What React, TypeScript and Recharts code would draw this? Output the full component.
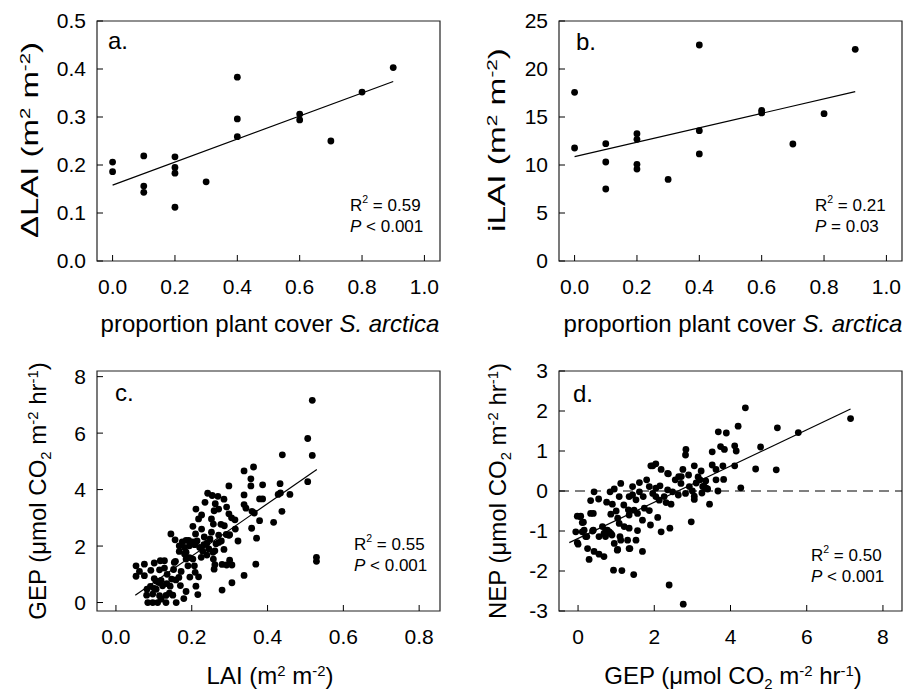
import { ScatterChart, Scatter, XAxis, YAxis, ReferenceArea, ReferenceLine } from 'recharts';

const FONT = '"Liberation Sans", Arial, sans-serif';

// panel a: change in LAI vs proportion cover
const dLaiPoints: [number, number][] = [
  [0.0, 0.206], [0.0, 0.186], [0.1, 0.219], [0.1, 0.156], [0.1, 0.143],
  [0.2, 0.217], [0.2, 0.195], [0.2, 0.183], [0.2, 0.112], [0.3, 0.165],
  [0.4, 0.383], [0.4, 0.296], [0.4, 0.259], [0.6, 0.306], [0.6, 0.294],
  [0.7, 0.25], [0.8, 0.352], [0.9, 0.403],
];
const dLaiFit: [number, number][] = [[0.0, 0.158], [0.9, 0.374]];

// panel b: iLAI vs proportion cover
const iLaiPoints: [number, number][] = [
  [0.0, 17.57], [0.0, 11.77], [0.1, 12.22], [0.1, 10.31], [0.1, 7.5],
  [0.2, 13.26], [0.2, 12.67], [0.2, 10.07], [0.2, 9.58], [0.3, 8.5],
  [0.4, 22.5], [0.4, 13.58], [0.4, 11.15], [0.6, 15.7], [0.6, 15.42],
  [0.7, 12.19], [0.8, 15.35], [0.9, 22.05],
];
const iLaiFit: [number, number][] = [[0.0, 10.87], [0.9, 17.64]];

// panel c: GEP vs LAI
const gepLaiPoints: [number, number][] = [
  [0.518, 7.16], [0.506, 5.81], [0.518, 5.21], [0.439, 5.23], [0.506, 4.28], [0.529, 1.6], [0.529, 1.46],
  [0.363, 4.8], [0.338, 4.66], [0.356, 4.38], [0.356, 4.13], [0.387, 4.17], [0.433, 4.21], [0.428, 3.83],
  [0.434, 3.88], [0.459, 3.83], [0.298, 4.13], [0.338, 3.81], [0.379, 3.67], [0.387, 3.67], [0.438, 3.23],
  [0.416, 2.84], [0.338, 3.47], [0.343, 3.34], [0.359, 3.23], [0.365, 3.17], [0.379, 2.9], [0.358, 2.63],
  [0.371, 2.28], [0.369, 1.36], [0.338, 0.96], [0.306, 0.7], [0.28, 0.44], [0.322, 2.18], [0.242, 3.87],
  [0.254, 3.79], [0.269, 3.76], [0.285, 3.66], [0.235, 3.55], [0.211, 3.31], [0.259, 3.25], [0.271, 3.31],
  [0.292, 3.38], [0.298, 3.14], [0.314, 2.93], [0.218, 2.96], [0.252, 2.96], [0.257, 2.78], [0.277, 2.77],
  [0.286, 2.72], [0.291, 2.41], [0.298, 2.38], [0.203, 2.7], [0.252, 2.49], [0.271, 2.39], [0.21, 2.43],
  [0.233, 2.32], [0.145, 2.43], [0.156, 2.22], [0.175, 2.15], [0.185, 2.2], [0.192, 2.2], [0.203, 2.15],
  [0.214, 2.18], [0.167, 2.01], [0.181, 1.95], [0.194, 2.01], [0.208, 2.05], [0.221, 1.95], [0.229, 1.82],
  [0.24, 1.68], [0.264, 2.08], [0.278, 2.18], [0.285, 1.88], [0.256, 1.78], [0.257, 1.54], [0.261, 1.34],
  [0.259, 1.18], [0.28, 1.35], [0.292, 1.33], [0.306, 1.33], [0.185, 1.78], [0.194, 1.59], [0.203, 1.54],
  [0.209, 1.07], [0.218, 0.91], [0.211, 0.58], [0.185, 0.39], [0.157, 1.46], [0.117, 1.48], [0.128, 1.48],
  [0.101, 1.4], [0.075, 1.36], [0.053, 1.3], [0.053, 0.93], [0.075, 0.95], [0.092, 1.14], [0.115, 1.16],
  [0.128, 1.22], [0.152, 1.17], [0.147, 0.83], [0.166, 0.89], [0.143, 0.58], [0.091, 0.57], [0.106, 0.76],
  [0.119, 0.78], [0.134, 0.67], [0.081, 0.26], [0.115, 0.24], [0.132, 0.25], [0.106, 0.47], [0.097, 0.3],
  [0.084, 0.0], [0.097, 0.0], [0.11, 0.0], [0.141, 0.33], [0.119, 0.12], [0.132, 0.0], [0.159, 0.0],
  [0.15, 0.26], [0.179, 0.14], [0.216, 0.28], [0.113, 0.71], [0.123, 0.59], [0.101, 0.85], [0.158, 0.8],
  [0.082, 0.47], [0.101, 0.5], [0.3, 2.4], [0.271, 2.13], [0.261, 1.83], [0.167, 1.81], [0.181, 1.72],
  [0.154, 1.42], [0.207, 1.3], [0.185, 1.54], [0.226, 2.6], [0.24, 2.1], [0.232, 2.05], [0.245, 1.9],
  [0.225, 1.6], [0.19, 1.3], [0.172, 1.1], [0.135, 1.0], [0.062, 1.1], [0.226, 3.1], [0.262, 3.5],
  [0.305, 3.0], [0.315, 2.6], [0.248, 2.25], [0.17, 0.6], [0.195, 0.9], [0.3, 1.5],
];
const gepLaiFit: [number, number][] = [[0.051, 0.26], [0.53, 4.71]];

// panel d: NEP vs GEP
const nepGepPoints: [number, number][] = [
  [4.39, 2.08], [7.15, 1.81], [5.78, 1.46], [5.23, 1.58], [4.79, 1.1], [4.2, 1.62], [3.68, 1.48], [3.89, 1.45],
  [3.74, 1.11], [3.84, 1.04], [4.11, 1.13], [4.15, 1.0], [3.52, 0.98], [2.83, 1.04], [2.82, 0.9], [4.66, 0.55],
  [5.2, 0.53], [4.11, 0.63], [3.8, 0.63], [3.62, 0.54], [3.52, 0.65], [4.27, 0.08], [3.05, 0.63], [2.75, 0.54],
  [3.23, 0.5], [2.37, 0.43], [2.71, 0.36], [1.96, 0.63], [2.04, 0.68], [2.18, 0.54], [3.62, 0.28], [3.82, 0.29],
  [3.2, 0.28], [3.1, 0.2], [3.3, 0.12], [3.4, 0.05], [3.67, 0.0], [3.45, -0.33], [2.97, -0.77], [2.41, -0.93],
  [2.39, -2.35], [2.76, -2.83], [1.46, -2.09], [0.93, -1.98], [1.15, -1.99], [1.69, -1.51], [1.34, -1.44],
  [1.04, -1.46], [0.29, -1.71], [0.25, -1.44], [0.42, -1.51], [0.55, -1.58], [0.68, -1.64], [-0.02, -1.29],
  [-0.02, -0.63], [0.07, -0.63], [-0.06, -1.02], [0.11, -0.79], [0.16, -0.98], [0.33, -0.56], [0.38, -1.0],
  [0.2, -1.14], [0.55, -1.14], [0.33, -0.24], [0.42, -0.02], [0.54, -0.2], [0.75, -0.28], [0.9, -0.33],
  [0.84, -0.02], [0.86, -0.58], [1.08, -0.14], [1.12, 0.19], [1.1, -1.14], [0.64, -0.89], [0.73, -0.98],
  [0.82, -1.02], [0.68, -1.06], [0.86, -1.06], [1.04, -0.68], [1.08, -0.81], [1.21, -0.89], [1.34, -0.93],
  [1.56, -0.99], [1.34, -0.6], [1.47, -0.48], [1.56, -0.56], [1.43, 0.11], [1.43, -0.1], [1.34, -0.14],
  [1.61, 0.21], [1.8, 0.28], [1.87, 0.11], [1.61, -0.02], [1.52, -0.22], [1.71, -0.14], [1.74, -0.43],
  [1.87, -0.49], [1.9, -0.85], [2.09, -0.66], [2.18, -1.02], [1.96, -0.06], [2.04, 0.07], [2.15, 0.13],
  [2.04, -0.14], [2.13, -0.23], [2.26, -0.14], [2.35, 0.03], [2.48, -0.02], [2.31, -0.29], [2.44, -0.33],
  [2.63, -0.1], [2.82, -0.06], [3.05, -0.13], [3.05, -0.21], [2.64, 0.36], [2.7, 0.19], [2.92, 0.11],
  [3.27, 0.11], [3.36, 0.07], [1.52, -1.23], [1.3, -1.23], [0.95, -1.31], [1.12, -1.23], [1.32, -0.47],
  [1.69, -0.73], [1.91, 0.63], [2.35, 0.44], [2.55, 0.28], [0.05, -0.64], [0.11, -1.02], [0.0, -1.33],
  [0.14, -0.78], [0.23, -1.14], [0.4, -0.98], [0.4, -0.56], [0.77, -0.98], [0.72, -1.14], [0.89, -1.1],
  [1.03, -1.48], [1.36, -1.44], [3.15, 0.35], [3.25, -0.05], [3.35, 0.25], [3.0, 0.0], [2.9, 0.4],
  [0.95, 0.05], [1.2, -0.35], [1.0, -0.5],
];
const nepGepFit: [number, number][] = [[-0.23, -1.29], [7.15, 2.05]];

const coverTicks = [0, 0.2, 0.4, 0.6, 0.8, 1.0];
const dLaiTicks = [0, 0.1, 0.2, 0.3, 0.4, 0.5];
const iLaiTicks = [0, 5, 10, 15, 20, 25];
const laiTicks = [0, 0.2, 0.4, 0.6, 0.8];
const gepTicks = [0, 2, 4, 6, 8];
const nepTicks = [-3, -2, -1, 0, 1, 2, 3];

const toXY = (pts: [number, number][]) => pts.map(([x, y]) => ({ x, y }));

const Dot = (props: any) => <circle cx={props.cx} cy={props.cy} r={3.4} fill="#000" />;
const NoDot = () => <g />;

const tickStyle = { fill: '#000', fontSize: 21, fontFamily: FONT };

interface PanelProps {
  left: number;
  top: number;
  points: [number, number][];
  fit: [number, number][];
  xDomain: [number, number];
  yDomain: [number, number];
  xTicks: number[];
  yTicks: number[];
  xFmt: (v: number) => string;
  yFmt: (v: number) => string;
  zeroLine?: boolean;
}

const Panel = ({ left, top, points, fit, xDomain, yDomain, xTicks, yTicks, xFmt, yFmt, zeroLine }: PanelProps) => (
  <div style={{ position: 'absolute', left, top }}>
    <ScatterChart width={455} height={300} margin={{ top: 21, right: 15, bottom: 9, left: 37 }}>
      <XAxis
        type="number"
        dataKey="x"
        domain={xDomain}
        ticks={xTicks}
        interval={0}
        allowDataOverflow
        axisLine={false}
        tickLine={{ stroke: '#000' }}
        tickSize={-6}
        tickMargin={24}
        height={30}
        tick={tickStyle}
        tickFormatter={xFmt}
      />
      <YAxis
        type="number"
        dataKey="y"
        domain={yDomain}
        ticks={yTicks}
        interval={0}
        allowDataOverflow
        axisLine={false}
        tickLine={{ stroke: '#000' }}
        tickSize={-6}
        tickMargin={17}
        width={60}
        tick={tickStyle}
        tickFormatter={yFmt}
      />
      <ReferenceArea
        x1={xDomain[0]}
        x2={xDomain[1]}
        y1={yDomain[0]}
        y2={yDomain[1]}
        fill="#fff"
        fillOpacity={0}
        stroke="#222"
        strokeWidth={1.2}
      />
      {zeroLine && <ReferenceLine y={0} stroke="#000" strokeWidth={1} strokeDasharray="10 6" />}
      <Scatter data={toXY(points)} shape={Dot} isAnimationActive={false} />
      <Scatter
        data={toXY(fit)}
        shape={NoDot}
        line={{ stroke: '#000', strokeWidth: 1.2 }}
        isAnimationActive={false}
      />
    </ScatterChart>
  </div>
);

const Sup = ({ children }: { children: string }) => (
  <>
    <tspan dy={-8} fontSize="0.62em">{children}</tspan>
    <tspan dy={8}>{'\u200b'}</tspan>
  </>
);
const Sub = ({ children }: { children: string }) => (
  <>
    <tspan dy={5} fontSize="0.62em">{children}</tspan>
    <tspan dy={-5}>{'\u200b'}</tspan>
  </>
);

const YTitle = ({ x, y, len, children }: { x: number; y: number; len?: number; children: any }) => (
  <text
    x={x}
    y={y}
    transform={`rotate(-90 ${x} ${y})`}
    textAnchor="middle"
    fontSize={24}
    fontFamily={FONT}
    textLength={len}
    lengthAdjust={len ? 'spacingAndGlyphs' : undefined}
  >
    {children}
  </text>
);
const XTitle = ({ x, y, children }: { x: number; y: number; children: any }) => (
  <text x={x} y={y} textAnchor="middle" fontSize={24} fontFamily={FONT}>
    {children}
  </text>
);
const Stats = ({ x, y, r2, p }: { x: number; y: number; r2: string; p: string }) => (
  <text fontSize={17} fontFamily={FONT}>
    <tspan x={x} y={y}>R</tspan>
    <Sup>2</Sup>
    <tspan> = {r2}</tspan>
    <tspan x={x} y={y + 21} fontStyle="italic">P</tspan>
    <tspan> {p}</tspan>
  </text>
);
const Letter = ({ x, y, t }: { x: number; y: number; t: string }) => (
  <text x={x} y={y} fontSize={24} fontFamily={FONT}>{t}</text>
);

const fmt1 = (v: number) => v.toFixed(1);
const fmt0 = (v: number) => String(v);

export default function App() {
  return (
    <div style={{ position: 'absolute', left: 0, top: 0, width: 911, height: 692, background: '#fff' }}>
      <Panel left={0} top={0} points={dLaiPoints} fit={dLaiFit} xDomain={[-0.05, 1.05]} yDomain={[0, 0.5]}
        xTicks={coverTicks} yTicks={dLaiTicks} xFmt={fmt1} yFmt={fmt1} />
      <Panel left={462} top={0} points={iLaiPoints} fit={iLaiFit} xDomain={[-0.05, 1.05]} yDomain={[0, 25]}
        xTicks={coverTicks} yTicks={iLaiTicks} xFmt={fmt1} yFmt={fmt0} />
      <Panel left={0} top={350} points={gepLaiPoints} fit={gepLaiFit} xDomain={[-0.05, 0.855]} yDomain={[-0.3, 8.2]}
        xTicks={laiTicks} yTicks={gepTicks} xFmt={fmt1} yFmt={fmt0} />
      <Panel left={462} top={350} points={nepGepPoints} fit={nepGepFit} xDomain={[-0.5, 8.5]} yDomain={[-3, 3]}
        xTicks={gepTicks} yTicks={nepTicks} xFmt={fmt0} yFmt={fmt0} zeroLine />

      <svg width={911} height={692} style={{ position: 'absolute', left: 0, top: 0, pointerEvents: 'none' }}>
        <Letter x={108} y={49} t="a." />
        <Letter x={576} y={50} t="b." />
        <Letter x={115} y={401} t="c." />
        <Letter x={573} y={402} t="d." />

        <Stats x={350} y={211} r2="0.59" p="< 0.001" />
        <Stats x={815} y={211} r2="0.21" p="= 0.03" />
        <Stats x={354} y={550} r2="0.55" p="< 0.001" />
        <Stats x={811} y={561} r2="0.50" p="< 0.001" />

        <YTitle x={38} y={140} len={196}>
          ΔLAI (m<Sup>2</Sup> m<Sup>-2</Sup>)
        </YTitle>
        <YTitle x={505} y={140} len={184}>
          iLAI (m<Sup>2</Sup> m<Sup>-2</Sup>)
        </YTitle>
        <YTitle x={46} y={491}>
          GEP (μmol CO<Sub>2</Sub> m<Sup>-2</Sup> hr<Sup>-1</Sup>)
        </YTitle>
        <YTitle x={506} y={491}>
          NEP (μmol CO<Sub>2</Sub> m<Sup>-2</Sup> hr<Sup>-1</Sup>)
        </YTitle>

        <XTitle x={270} y={332}>
          proportion plant cover <tspan fontStyle="italic">S. arctica</tspan>
        </XTitle>
        <XTitle x={733} y={332}>
          proportion plant cover <tspan fontStyle="italic">S. arctica</tspan>
        </XTitle>
        <XTitle x={270} y={684}>
          LAI (m<Sup>2</Sup> m<Sup>-2</Sup>)
        </XTitle>
        <XTitle x={733} y={684}>
          GEP (μmol CO<Sub>2</Sub> m<Sup>-2</Sup> hr<Sup>-1</Sup>)
        </XTitle>
      </svg>
    </div>
  );
}
